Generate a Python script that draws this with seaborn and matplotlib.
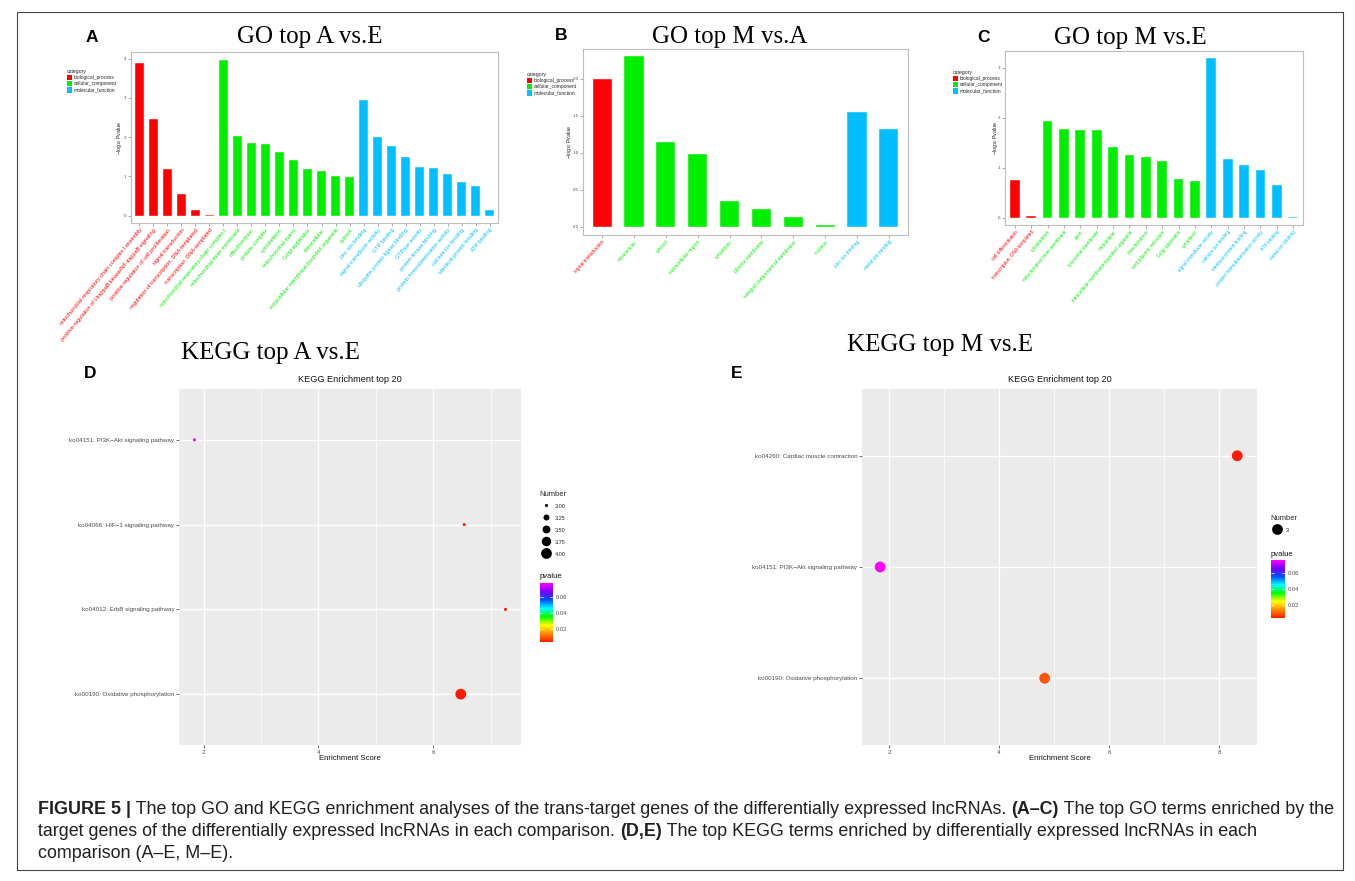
import numpy as np
import pandas as pd
import matplotlib
matplotlib.use("Agg")
import matplotlib.pyplot as plt
import seaborn as sns
from matplotlib.colors import LinearSegmentedColormap, Normalize
from matplotlib.patches import Patch, Rectangle
from matplotlib.lines import Line2D
from matplotlib.ticker import MultipleLocator
import matplotlib.colorbar as mcolorbar

W, H = 1355, 881

# ---------------- data ----------------
CATS = ["biological_process", "cellular_component", "molecular_function"]

A_terms = ["mitochondrial respiratory chain complex I assembly",
           "positive regulation of I-kappaB kinase/NF-kappaB signaling",
           "positive regulation of cell proliferation", "signal transduction",
           "regulation of transcription, DNA-templated", "transcription, DNA-templated",
           "mitochondrial respiratory chain complex I", "mitochondrial inner membrane",
           "mitochondrion", "protein complex", "cytoskeleton", "mitochondrial matrix",
           "Golgi apparatus", "intracellular", "intracellular membrane-bounded organelle",
           "cytosol", "zinc ion binding", "signal transducer activity", "GTP binding",
           "ubiquitin protein ligase binding", "GTPase activity", "protein kinase binding",
           "protein homodimerization activity", "calcium ion binding",
           "identical protein binding", "ATP binding"]
A_cats = ["biological_process"] * 6 + ["cellular_component"] * 10 + ["molecular_function"] * 10
A_values = [3.90, 2.47, 1.19, 0.55, 0.15, 0.03,
            3.97, 2.03, 1.86, 1.82, 1.62, 1.42, 1.19, 1.14, 1.01, 0.99,
            2.95, 2.01, 1.78, 1.50, 1.24, 1.22, 1.06, 0.86, 0.76, 0.15]

B_terms = ["signal transduction", "intracellular", "cytosol", "extracellular region",
           "cytoplasm", "plasma membrane", "integral component of membrane", "nucleus",
           "zinc ion binding", "metal ion binding"]
B_cats = ["biological_process"] + ["cellular_component"] * 7 + ["molecular_function"] * 2
B_values = [2.00, 2.30, 1.14, 0.99, 0.35, 0.24, 0.135, 0.03, 1.55, 1.32]

C_terms = ["cell differentiation", "transcription, DNA-templated", "cytoskeleton",
           "mitochondrial inner membrane", "axon", "lysosomal membrane", "intracellular",
           "intracellular membrane-bounded organelle", "mitochondrion",
           "endoplasmic reticulum", "Golgi apparatus", "cytoplasm",
           "signal transducer activity", "calcium ion binding", "identical protein binding",
           "protein homodimerization activity", "ATP binding", "metal ion binding"]
C_cats = ["biological_process"] * 2 + ["cellular_component"] * 10 + ["molecular_function"] * 6
C_values = [0.76, 0.04, 1.93, 1.77, 1.76, 1.75, 1.42, 1.25, 1.21, 1.14, 0.78, 0.74,
            3.19, 1.18, 1.05, 0.95, 0.65, 0.02]

# KEGG (listed bottom -> top)
D_terms = ["ko00190: Oxidative phosphorylation", "ko04012: ErbB signaling pathway",
           "ko04066: HIF\u22121 signaling pathway", "ko04151: PI3K\u2212Akt signaling pathway"]
D_scores = [6.48, 7.26, 6.54, 1.84]
D_numbers = [4, 3, 3, 3]
D_pvalues = [0.0038, 0.0042, 0.0045, 0.0768]

E_terms = ["ko00190: Oxidative phosphorylation", "ko04151: PI3K\u2212Akt signaling pathway",
           "ko04260: Cardiac muscle contraction"]
E_scores = [4.83, 1.84, 8.33]
E_numbers = [3, 3, 3]
E_pvalues = [0.0095, 0.0765, 0.0040]

# ---------------- style ----------------
sns.set_theme(style="white")
plt.rcParams['font.family'] = ['Liberation Sans', 'DejaVu Sans']
plt.rcParams['mathtext.fontset'] = 'dejavusans'

CAT_COLORS = {"biological_process": "#FF0000", "cellular_component": "#00EE00",
              "molecular_function": "#00BFFF"}
PV_CMAP = LinearSegmentedColormap.from_list(
    "pv", ["#FF1A00", "#FF8C00", "#FFFF00", "#00FF00", "#00FFFF", "#0050FF", "#7A00FF", "#FF00FF"])
TICK_C = "#4D4D4D"

fig = plt.figure(figsize=(W / 100, H / 100), dpi=100)


def px_axes(l, t, r, b):
    return fig.add_axes([l / W, 1 - b / H, (r - l) / W, (b - t) / H])


def ftext(x, y, s, **kw):
    return fig.text(x / W, 1 - y / H, s, **kw)


def go_panel(rect, terms, cats, values, ylim, yticks, ytl, rot, fs, ylab_x, leg_xy):
    ax = px_axes(*rect)
    df = pd.DataFrame({"term": terms, "category": cats, "value": values})
    sns.barplot(data=df, x="term", y="value", hue="category", hue_order=CATS,
                palette=CAT_COLORS, dodge=False, width=0.6, order=terms, ax=ax,
                legend=False, edgecolor="white", linewidth=0.3, saturation=1)
    ax.set_xlim(-0.6, len(terms) - 0.4)
    ax.set_ylim(*ylim)
    ax.set_xticks(range(len(terms)))
    ax.set_xticklabels(terms, rotation=rot, ha='right', rotation_mode='anchor', fontsize=fs)
    for lab, c in zip(ax.get_xticklabels(), cats):
        lab.set_color(CAT_COLORS[c])
    ax.set_yticks(yticks)
    ax.set_yticklabels(ytl, fontsize=3.2, color=TICK_C)
    ax.tick_params(bottom=True, left=True, length=2, width=0.5, color="#8C8C8C", pad=1.2)
    for s in ax.spines.values():
        s.set_visible(True)
        s.set_color("#BDBDBD")
        s.set_linewidth(0.8)
    ax.set_xlabel("")
    ax.set_ylabel("")
    ax.set_facecolor("white")
    l, t, r, b = rect
    ftext(ylab_x, (t + b) / 2, "\u2212log$_{10}$ Pvalue", rotation=90, ha='center',
          va='center', fontsize=3.8, color="#222222")
    handles = [Patch(facecolor=CAT_COLORS[c], edgecolor='none', label=c) for c in CATS]
    fig.legend(handles=handles, loc='upper left',
               bbox_to_anchor=(leg_xy[0] / W, 1 - leg_xy[1] / H),
               title="category", fontsize=3.5, title_fontsize=3.7, frameon=False,
               handlelength=1.0, handleheight=1.4, labelspacing=0.12,
               handletextpad=0.4, borderpad=0, borderaxespad=0, alignment='left')
    return ax


def kegg_panel(rect, terms, scores, numbers, pvalues, xlim, xticks, sizes, size_norm,
               size_leg, leg_xy, cbar_rect):
    ax = px_axes(*rect)
    df = pd.DataFrame({"term": terms, "score": scores, "Number": numbers, "pvalue": pvalues})
    norm = Normalize(min(pvalues), max(pvalues))
    sns.scatterplot(data=df, x="score", y="term", hue="pvalue", palette=PV_CMAP,
                    hue_norm=norm, size="Number", sizes=sizes, size_norm=size_norm,
                    ax=ax, legend=False, linewidth=0, alpha=1)
    ax.set_facecolor("#EBEBEB")
    ax.set_xlim(*xlim)
    ax.set_ylim(-0.6, len(terms) - 0.4)
    ax.set_xticks(xticks)
    ax.xaxis.set_minor_locator(MultipleLocator(1))
    ax.grid(which='major', color='white', linewidth=1.0)
    ax.grid(which='minor', axis='x', color='white', linewidth=0.5)
    ax.set_axisbelow(True)
    for s in ax.spines.values():
        s.set_visible(False)
    ax.tick_params(which='major', bottom=True, left=True, length=2, width=0.5,
                   color="#333333", labelsize=4.5, labelcolor=TICK_C, pad=1.5)
    ax.tick_params(which='minor', bottom=False, left=False)
    ax.set_xlabel("")
    ax.set_ylabel("")
    l, t, r, b = rect
    ftext((l + r) / 2, t - 9, "KEGG Enrichment top 20", ha='center', va='center',
          fontsize=6.6, color="#111111")
    ftext((l + r) / 2, b + 14, "Enrichment Score", ha='center', va='center',
          fontsize=5.6, color="#111111")
    # size legend
    handles = [Line2D([], [], marker='o', ls='', color='black', markeredgewidth=0,
                      markersize=np.sqrt(sz), label=lab) for sz, lab in size_leg]
    fig.legend(handles=handles, loc='upper left',
               bbox_to_anchor=(leg_xy[0] / W, 1 - leg_xy[1] / H),
               title="Number", fontsize=4, title_fontsize=5.5, frameon=False,
               handlelength=2.4, handleheight=2.0, labelspacing=0.65,
               handletextpad=0.4, borderpad=0, borderaxespad=0, alignment='left')
    cax = px_axes(*cbar_rect)
    cb = mcolorbar.ColorbarBase(cax, cmap=PV_CMAP, norm=norm, ticks=[0.02, 0.04, 0.06])
    cb.outline.set_visible(False)
    cax.set_yticklabels(["0.02", "0.04", "0.06"])
    cax.tick_params(length=0, labelsize=4.2, colors=TICK_C, pad=2)
    for v in [0.02, 0.04, 0.06]:
        cax.axhline(v, 0, 0.2, color='white', lw=0.5)
        cax.axhline(v, 0.8, 1, color='white', lw=0.5)
    l2, t2, r2, b2 = cbar_rect
    ftext(l2, t2 - 6, "pvalue", ha='left', va='center', fontsize=5.5, color="#111111")
    return ax


# ---------------- GO panels ----------------
go_panel((131, 52, 498, 223), A_terms, A_cats, A_values, (-0.186, 4.17),
         [0, 1, 2, 3, 4], ["0", "1", "2", "3", "4"], 50, 4.0, 120, (67, 69))
go_panel((583, 49, 908, 235), B_terms, B_cats, B_values, (-0.108, 2.40),
         [0, 0.5, 1.0, 1.5, 2.0], ["0.0", "0.5", "1.0", "1.5", "2.0"], 48, 3.6, 569, (527, 72))
go_panel((1005, 51, 1303, 225), C_terms, C_cats, C_values, (-0.146, 3.34),
         [0, 1, 2, 3], ["0", "1", "2", "3"], 50, 3.4, 996, (953, 70))

# ---------------- KEGG panels ----------------
d_sizes = (5, 60)
kegg_panel((179, 389, 521, 745), D_terms, D_scores, D_numbers, D_pvalues, (1.57, 7.53),
           [2, 4, 6], d_sizes, (3, 4),
           [(d_sizes[0] + (d_sizes[1] - d_sizes[0]) * f, lab) for f, lab in
            [(0, "3.00"), (0.25, "3.25"), (0.5, "3.50"), (0.75, "3.75"), (1, "4.00")]],
           (539, 491), (540, 583, 553, 642))
kegg_panel((862, 389, 1257, 745), E_terms, E_scores, E_numbers, E_pvalues, (1.51, 8.69),
           [2, 4, 6, 8], {3: 60}, None, [(60, "3")], (1270, 515), (1271, 560, 1285, 618))

# ---------------- titles / letters ----------------
serif = dict(family=['Liberation Serif', 'DejaVu Serif'], fontsize=18, ha='center',
             va='center', color='black')
ftext(310, 37, "GO top A vs.E", **serif)
ftext(730, 37, "GO top M vs.A", **serif)
ftext(1130, 38, "GO top M vs.E", **serif)
ftext(270, 353, "KEGG top A vs.E", **serif)
ftext(940, 345, "KEGG top M vs.E", **serif)
letter = dict(fontsize=12.5, fontweight='bold', ha='center', va='center', color='black')
ftext(92, 37, "A", **letter)
ftext(561, 35, "B", **letter)
ftext(983, 37, "C", **letter)
ftext(90, 373, "D", **letter)
ftext(737, 374, "E", **letter)

# ---------------- caption ----------------
renderer = fig.canvas.get_renderer()


def text_w(s, fs, bold):
    w = 'bold' if bold else 'normal'
    t1 = fig.text(0, 0, "I" + s + "I", fontsize=fs, fontweight=w)
    t2 = fig.text(0, 0, "II", fontsize=fs, fontweight=w)
    d = t1.get_window_extent(renderer).width - t2.get_window_extent(renderer).width
    t1.remove()
    t2.remove()
    return d


cap_lines = [
    [("FIGURE 5 |", True),
     (" The top GO and KEGG enrichment analyses of the trans-target genes of the differentially expressed lncRNAs. ", False),
     ("(A\u2013C)", True), (" The top GO terms enriched by the", False)],
    [("target genes of the differentially expressed lncRNAs in each comparison. ", False),
     ("(D,E)", True), (" The top KEGG terms enriched by differentially expressed lncRNAs in each", False)],
    [("comparison (A\u2013E, M\u2013E).", False)],
]
base_fs = 12
w1 = sum(text_w(s, base_fs, b) for s, b in cap_lines[0])
cap_fs = base_fs * (1295 / w1)
for line, y in zip(cap_lines, [810, 832, 853]):
    x = 38
    for s, b in line:
        ftext(x, y, s, fontsize=cap_fs, fontweight='bold' if b else 'normal',
              ha='left', va='center', color='#231F20')
        x += text_w(s, cap_fs, b)

# frame
fig.add_artist(Rectangle((17 / W, 1 - 870 / H), (1343 - 17) / W, (870 - 12) / H,
                         transform=fig.transFigure, fill=False, lw=0.8, edgecolor='#444444'))

fig.savefig("out.png", dpi=100)
